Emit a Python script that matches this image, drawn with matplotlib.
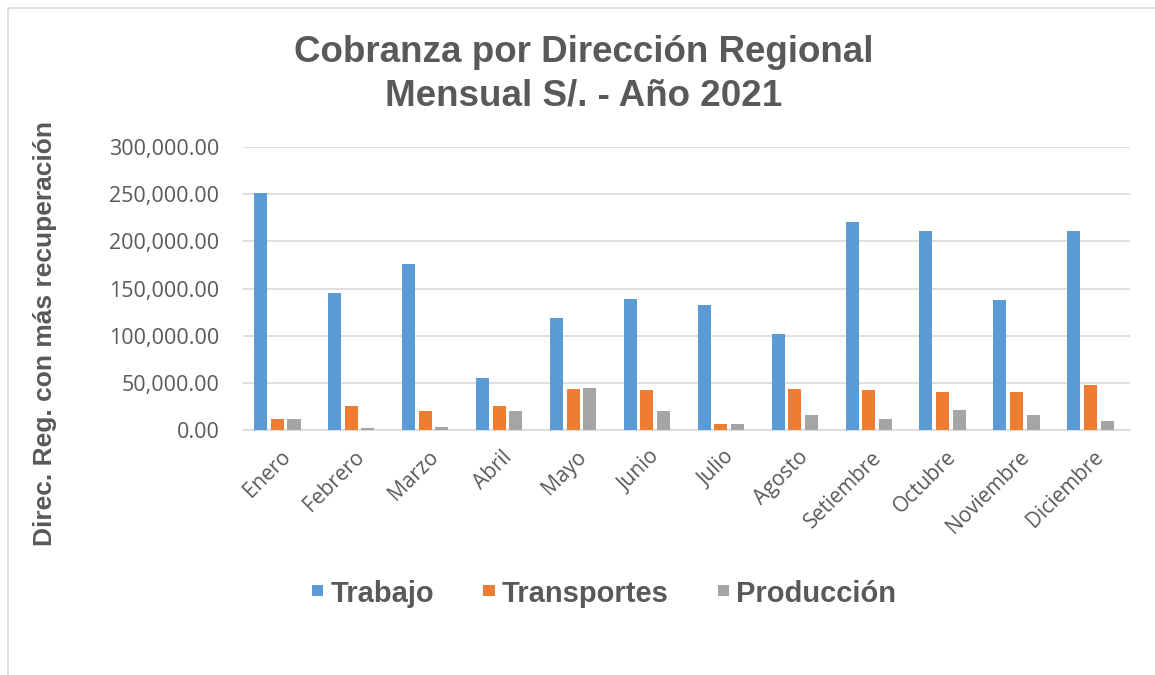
import numpy as np
import matplotlib
matplotlib.use("Agg")
import matplotlib.pyplot as plt
from matplotlib.patches import Rectangle
from matplotlib.ticker import FuncFormatter

plt.rcParams['font.family'] = ['Liberation Sans', 'DejaVu Sans']

# data
meses = ["Enero", "Febrero", "Marzo", "Abril", "Mayo", "Junio", "Julio",
         "Agosto", "Setiembre", "Octubre", "Noviembre", "Diciembre"]
trabajo = [251000, 145000, 176000, 55000, 119000, 139000, 132000,
           102000, 220000, 211000, 138000, 211000]
transportes = [12000, 25800, 20000, 25400, 43900, 42000, 6200,
               43900, 42800, 40600, 39900, 47800]
produccion = [11300, 1800, 2900, 20300, 44600, 20300, 6200,
              15600, 11600, 21000, 16000, 9100]

series = ["Trabajo", "Transportes", "Producción"]
colores = ["#5B9BD5", "#ED7D31", "#A5A5A5"]

fig = plt.figure(figsize=(11.55, 6.75), dpi=100)
ax = fig.add_axes([243 / 1155, 1 - 430 / 675, (1130 - 243) / 1155, (430 - 147) / 675])

# light frame around the chart area
fig.patches.append(Rectangle((8 / 1155, -0.1), 1.2, 1 - 8 / 675 + 0.1,
                             transform=fig.transFigure, fill=False,
                             edgecolor="#d9d9d9", linewidth=1.2))

x = np.arange(len(meses))
w = 0.176
paso = 0.225
for i, (vals, nombre, c) in enumerate(zip([trabajo, transportes, produccion], series, colores)):
    ax.bar(x + (i - 1) * paso - 0.035, vals, width=w, color=c, label=nombre, zorder=3)

ax.set_xlim(-0.5, len(meses) - 0.5)
ax.set_ylim(0, 300000)
ax.set_yticks(np.arange(0, 300001, 50000))
ax.yaxis.set_major_formatter(FuncFormatter(lambda v, p: f"{v:,.2f}"))
ax.grid(axis="y", color="#d9d9d9", linewidth=1.2, zorder=0)
for s in ["top", "right", "left"]:
    ax.spines[s].set_visible(False)
ax.spines["bottom"].set_color("#d9d9d9")
ax.spines["bottom"].set_linewidth(1.2)
ax.tick_params(axis="both", length=0, colors="#595959")
ax.tick_params(axis="y", pad=17, labelsize=15.5)
ax.set_xticks(x)
ax.set_xticklabels(meses, rotation=45, ha="right", rotation_mode="anchor")
ax.tick_params(axis="x", pad=12, labelsize=15)
for lab in ax.get_xticklabels() + ax.get_yticklabels():
    lab.set_family(["Open Sans", "DejaVu Sans"])

fig.text(0.505, 1 - 52 / 675, "Cobranza por Dirección Regional", ha="center", va="center",
         fontsize=26.5, fontweight="bold", color="#595959")
fig.text(0.505, 1 - 96 / 675, "Mensual S/. - Año 2021", ha="center", va="center",
         fontsize=26.5, fontweight="bold", color="#595959")
fig.text(45 / 1155, 1 - 334 / 675, "Direc. Reg. con más recuperación", rotation=90,
         ha="center", va="center", fontsize=19, fontweight="bold", color="#595959")

leg = fig.legend(loc="center", bbox_to_anchor=(0.523, 1 - 594 / 675), ncol=3, frameon=False,
                 prop={"size": 21, "weight": "bold"}, labelcolor="#595959",
                 handlelength=0.42, handleheight=0.42, handletextpad=0.2, columnspacing=1.7)
for h in leg.legend_handles:
    h.set_height(8)
    h.set_width(8)
    h.set_y(h.get_y() + 2.5)

fig.savefig("out.png", dpi=100)
